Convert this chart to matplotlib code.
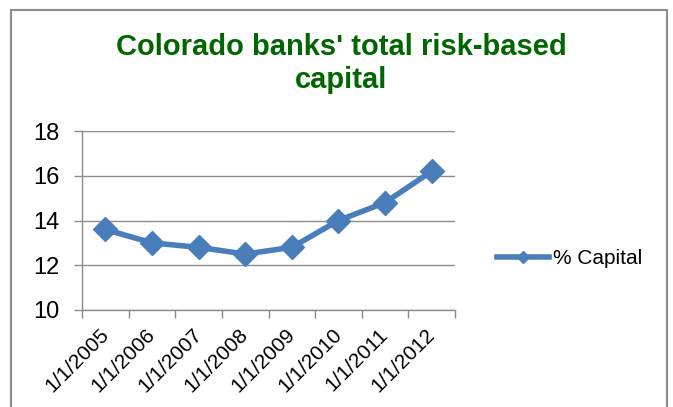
import matplotlib.pyplot as plt
from matplotlib.patches import Rectangle
from matplotlib.transforms import ScaledTranslation

dates = ['1/1/2005', '1/1/2006', '1/1/2007', '1/1/2008',
         '1/1/2009', '1/1/2010', '1/1/2011', '1/1/2012']
capital = [13.6, 13.0, 12.8, 12.5, 12.8, 14.0, 14.8, 16.2]

plt.rcParams['font.family'] = ['Liberation Sans', 'DejaVu Sans']

fig = plt.figure(figsize=(6.73, 4.07), dpi=100)
W, H = 673, 407

# chart frame
fig.patches.append(Rectangle((11 / W, -0.05), 656 / W, 1.05 - 10 / H,
                             transform=fig.transFigure, fill=False,
                             edgecolor='#8c8c8c', linewidth=1.5))

ax = fig.add_axes([82 / W, 1 - 310 / H, (455 - 82) / W, (310 - 131) / H])
x = list(range(len(dates)))
line, = ax.plot(x, capital, color='#4a7ebb', linewidth=4, marker='D',
                markersize=12, label='% Capital', zorder=3)

ax.set_ylim(10, 18)
ax.set_yticks([10, 12, 14, 16, 18])
ax.set_xlim(-0.5, len(dates) - 0.5)
ax.set_xticks([i - 0.5 for i in range(len(dates) + 1)])
ax.set_xticklabels([])
ax.set_xticks(x, minor=True)
ax.set_xticklabels(dates, minor=True, rotation=45, ha='right', va='top',
                   rotation_mode='anchor', fontsize=15)
ax.tick_params(axis='x', which='minor', length=0, pad=10)
ax.tick_params(axis='x', which='major', length=6, color='#8c8c8c', width=1)
ax.tick_params(axis='y', length=6, color='#8c8c8c', width=1, labelsize=17, pad=10)

ax.grid(axis='y', color='#8c8c8c', linewidth=1)
ax.set_axisbelow(True)
for s in ['top', 'right']:
    ax.spines[s].set_visible(False)
for s in ['left', 'bottom']:
    ax.spines[s].set_color('#8c8c8c')
    ax.spines[s].set_linewidth(1)

fig.text(341 / W, 1 - 47 / H, "Colorado banks' total risk-based",
         ha='center', va='center', fontsize=21, fontweight='bold', color='#006600')
fig.text(341 / W, 1 - 80 / H, "capital",
         ha='center', va='center', fontsize=21, fontweight='bold', color='#006600')

fig.legend(handles=[line], loc='center left', bbox_to_anchor=(489 / W, 1 - 259 / H),
           frameon=False, fontsize=15, handlelength=2.5, handletextpad=0.15,
           markerscale=0.55, borderaxespad=0)

# place the rotated date labels: upper-right end just right of the category centre
fig.canvas.draw()
renderer = fig.canvas.get_renderer()
for i, lab in enumerate(ax.get_xticklabels(minor=True)):
    bb = lab.get_window_extent(renderer)
    cx = ax.transData.transform((i, 10))[0]
    dx = (cx + 7) - bb.x1
    dy = (H - 325) - bb.y1
    lab.set_transform(lab.get_transform()
                      + ScaledTranslation(dx / fig.dpi, dy / fig.dpi, fig.dpi_scale_trans))

fig.savefig('out.png', dpi=100)
